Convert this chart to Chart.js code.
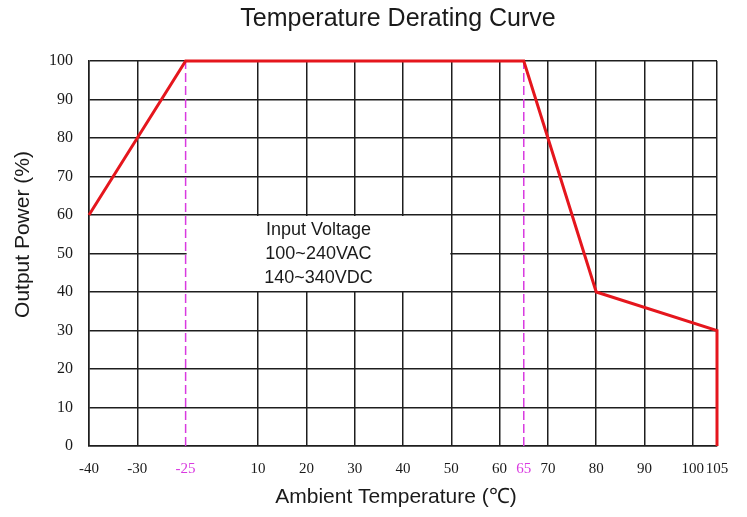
<!DOCTYPE html>
<html>
<head>
<meta charset="utf-8">
<script src="https://cdn.jsdelivr.net/npm/chart.js@4/dist/chart.umd.min.js"></script>
<style>
  html, body { margin: 0; padding: 0; background: #ffffff; }
  canvas { display: block; }
</style>
</head>
<body>
<canvas id="c" width="747" height="517"></canvas>
<script>
// ---------------- data ----------------
const curveTemps = [-40, -25, 65, 80, 105, 105];
const curvePower = [60, 100, 100, 40, 30, 0];
const markerTemps = [-25, 65];
const xTickValues = [-40, -30, -25, 10, 20, 30, 40, 50, 60, 65, 70, 80, 90, 100, 105];
const yTickValues = [0, 10, 20, 30, 40, 50, 60, 70, 80, 90, 100];
const chartTitle = 'Temperature Derating Curve';
const xTitle = 'Ambient Temperature (\u2103)';
const yTitle = 'Output Power (%)';
const noteLines = ['Input Voltage', '100~240VAC', '140~340VDC'];

// ---------------- styles ----------------
const RED = '#e5161d';
const MAGENTA = '#d93ae0';
const GRID = '#1e1e1e';
const TEXT = '#1a1a1a';
const SANS = "'Liberation Sans', Arial, sans-serif";
const SERIF = "'Liberation Serif', 'Times New Roman', serif";

// Axis with a broken (non-uniform) temperature scale, as in the original drawing:
// relative spacing of the tick positions along the axis.
const axisSlots = [0, 1, 2, 3.5, 4.5, 5.5, 6.5, 7.5, 8.5, 9, 9.5, 10.5, 11.5, 12.5, 13];
function tempToSlot(t) {
  for (let i = 1; i < xTickValues.length; i++) {
    if (t <= xTickValues[i] || i === xTickValues.length - 1) {
      const a = xTickValues[i - 1], b = xTickValues[i];
      return axisSlots[i - 1] + (t - a) / (b - a) * (axisSlots[i] - axisSlots[i - 1]);
    }
  }
  return axisSlots[axisSlots.length - 1];
}
function slotToTemp(s) {
  for (let i = 1; i < axisSlots.length; i++) {
    if (s <= axisSlots[i] || i === axisSlots.length - 1) {
      const a = axisSlots[i - 1], b = axisSlots[i];
      return xTickValues[i - 1] + (s - a) / (b - a) * (xTickValues[i] - xTickValues[i - 1]);
    }
  }
  return xTickValues[xTickValues.length - 1];
}
class BrokenAxis extends Chart.LinearScale {
  getPixelForValue(v) {
    if (v === null || v === undefined || isNaN(v)) return NaN;
    const last = axisSlots[axisSlots.length - 1];
    return this.getPixelForDecimal(tempToSlot(v) / last);
  }
  getValueForPixel(px) {
    const last = axisSlots[axisSlots.length - 1];
    return slotToTemp(this.getDecimalForPixel(px) * last);
  }
}
BrokenAxis.id = 'brokenAxis';
BrokenAxis.defaults = Chart.LinearScale.defaults;
Chart.register(BrokenAxis);

const noteBox = { from: -25, to: 50, low: 40, high: 60 };

const textPlugin = {
  id: 'texts',
  beforeDatasetsDraw(chart) {
    const { ctx, scales: { x, y } } = chart;
    const l = x.getPixelForValue(noteBox.from) + 1;
    const r = x.getPixelForValue(noteBox.to) - 1;
    const t = y.getPixelForValue(noteBox.high) + 1;
    const b = y.getPixelForValue(noteBox.low) - 1;
    ctx.save();
    ctx.fillStyle = '#ffffff';
    ctx.fillRect(l, t, r - l, b - t);
    ctx.fillStyle = TEXT;
    ctx.font = `18px ${SANS}`;
    ctx.textAlign = 'center';
    ctx.textBaseline = 'middle';
    const cx = (l + r) / 2, cy = (t + b) / 2 + 1;
    const step = 24;
    noteLines.forEach((line, i) => {
      ctx.fillText(line, cx, cy + (i - (noteLines.length - 1) / 2) * step);
    });
    ctx.restore();
  },
  afterDraw(chart) {
    const { ctx, chartArea } = chart;
    const cx = (chartArea.left + chartArea.right) / 2;
    ctx.save();
    ctx.fillStyle = TEXT;
    ctx.textAlign = 'center';
    ctx.textBaseline = 'middle';
    ctx.font = `25px ${SANS}`;
    ctx.fillText(chartTitle, cx - 5, 19);
    ctx.font = `21px ${SANS}`;
    ctx.fillText(xTitle, cx - 7, 497);
    ctx.translate(23, chartArea.top + (chartArea.bottom - chartArea.top) / 2 - 19);
    ctx.rotate(-Math.PI / 2);
    ctx.fillText(yTitle, 0, 0);
    ctx.restore();
  }
};

const datasets = [
  {
    data: curveTemps.map((t, i) => ({ x: t, y: curvePower[i] })),
    borderColor: RED,
    borderWidth: 3,
    pointRadius: 0,
    tension: 0,
    fill: false,
    clip: false,
    borderJoinStyle: 'miter'
  },
  ...markerTemps.map(t => ({
    data: [{ x: t, y: yTickValues[0] }, { x: t, y: yTickValues[yTickValues.length - 1] }],
    borderColor: MAGENTA,
    borderWidth: 1.5,
    borderDash: [9, 4],
    pointRadius: 0,
    fill: false,
    clip: false
  }))
];

new Chart(document.getElementById('c'), {
  type: 'line',
  data: { datasets },
  plugins: [textPlugin],
  options: {
    responsive: false,
    animation: false,
    devicePixelRatio: 1,
    layout: { padding: { top: 61, right: 30, bottom: 0, left: 0 } },
    plugins: { legend: { display: false }, tooltip: { enabled: false }, title: { display: false } },
    scales: {
      x: {
        type: 'brokenAxis',
        min: -40,
        max: 105,
        afterBuildTicks: s => { s.ticks = xTickValues.map(v => ({ value: v })); },
        afterFit: s => { s.height = 71; },
        grid: {
          color: c => (c.tick && markerTemps.includes(c.tick.value)) ? 'rgba(0,0,0,0)' : GRID,
          lineWidth: 1.5,
          drawTicks: false
        },
        border: { color: GRID, width: 1.5 },
        ticks: {
          autoSkip: false,
          maxRotation: 0,
          minRotation: 0,
          padding: 14,
          font: { family: SERIF, size: 15 },
          color: c => (c.tick && markerTemps.includes(c.tick.value)) ? MAGENTA : TEXT,
          callback: v => String(v)
        }
      },
      y: {
        min: 0,
        max: 100,
        afterBuildTicks: s => { s.ticks = yTickValues.map(v => ({ value: v })); },
        afterFit: s => { s.width = 89; },
        grid: { color: GRID, lineWidth: 1.5, drawTicks: false },
        border: { color: GRID, width: 1.5 },
        ticks: {
          padding: 16,
          font: { family: SERIF, size: 16 },
          color: TEXT,
          callback: v => String(v)
        }
      }
    }
  }
});
</script>
</body>
</html>
